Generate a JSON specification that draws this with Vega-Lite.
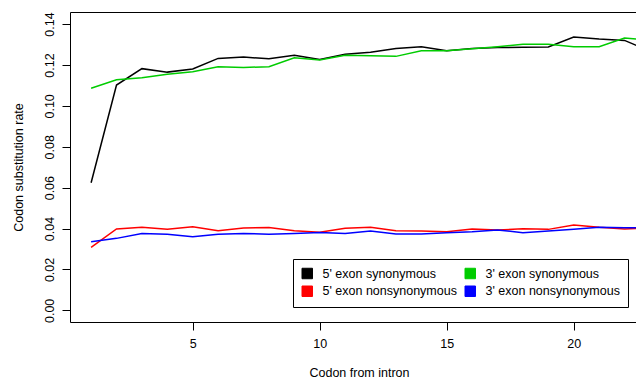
{
  "$schema": "https://vega.github.io/schema/vega-lite/v6.json",
  "autosize": {"type": "none"},
  "padding": {"left": 70, "top": 12, "right": 0, "bottom": 59},
  "width": 568,
  "height": 310,
  "background": "white",
  "config": {
    "font": "Liberation Sans",
    "view": {"stroke": "black", "strokeWidth": 1},
    "axis": {"grid": false, "domain": false, "tickColor": "black", "tickSize": 8, "labelColor": "black", "titleColor": "black", "labelFont": "Liberation Sans", "titleFont": "Liberation Sans", "labelFontSize": 12.5, "titleFontSize": 12.5, "titleFontWeight": "normal"}
  },
  "datasets": {
    "rates": [
      {"codon": 1, "series": "5' exon synonymous", "rate": 0.0624},
      {"codon": 2, "series": "5' exon synonymous", "rate": 0.1102},
      {"codon": 3, "series": "5' exon synonymous", "rate": 0.1182},
      {"codon": 4, "series": "5' exon synonymous", "rate": 0.1165},
      {"codon": 5, "series": "5' exon synonymous", "rate": 0.1180},
      {"codon": 6, "series": "5' exon synonymous", "rate": 0.1232},
      {"codon": 7, "series": "5' exon synonymous", "rate": 0.1239},
      {"codon": 8, "series": "5' exon synonymous", "rate": 0.1230},
      {"codon": 9, "series": "5' exon synonymous", "rate": 0.1248},
      {"codon": 10, "series": "5' exon synonymous", "rate": 0.1227},
      {"codon": 11, "series": "5' exon synonymous", "rate": 0.1252},
      {"codon": 12, "series": "5' exon synonymous", "rate": 0.1262},
      {"codon": 13, "series": "5' exon synonymous", "rate": 0.1281},
      {"codon": 14, "series": "5' exon synonymous", "rate": 0.1289},
      {"codon": 15, "series": "5' exon synonymous", "rate": 0.1270},
      {"codon": 16, "series": "5' exon synonymous", "rate": 0.1280},
      {"codon": 17, "series": "5' exon synonymous", "rate": 0.1285},
      {"codon": 18, "series": "5' exon synonymous", "rate": 0.1287},
      {"codon": 19, "series": "5' exon synonymous", "rate": 0.1288},
      {"codon": 20, "series": "5' exon synonymous", "rate": 0.1337},
      {"codon": 21, "series": "5' exon synonymous", "rate": 0.1327},
      {"codon": 22, "series": "5' exon synonymous", "rate": 0.1320},
      {"codon": 23, "series": "5' exon synonymous", "rate": 0.1268},
      {"codon": 1, "series": "3' exon synonymous", "rate": 0.1086},
      {"codon": 2, "series": "3' exon synonymous", "rate": 0.1128},
      {"codon": 3, "series": "3' exon synonymous", "rate": 0.1138},
      {"codon": 4, "series": "3' exon synonymous", "rate": 0.1154},
      {"codon": 5, "series": "3' exon synonymous", "rate": 0.1167},
      {"codon": 6, "series": "3' exon synonymous", "rate": 0.1191},
      {"codon": 7, "series": "3' exon synonymous", "rate": 0.1188},
      {"codon": 8, "series": "3' exon synonymous", "rate": 0.1191},
      {"codon": 9, "series": "3' exon synonymous", "rate": 0.1235},
      {"codon": 10, "series": "3' exon synonymous", "rate": 0.1224},
      {"codon": 11, "series": "3' exon synonymous", "rate": 0.1248},
      {"codon": 12, "series": "3' exon synonymous", "rate": 0.1245},
      {"codon": 13, "series": "3' exon synonymous", "rate": 0.1242},
      {"codon": 14, "series": "3' exon synonymous", "rate": 0.1269},
      {"codon": 15, "series": "3' exon synonymous", "rate": 0.1270},
      {"codon": 16, "series": "3' exon synonymous", "rate": 0.1279},
      {"codon": 17, "series": "3' exon synonymous", "rate": 0.1289},
      {"codon": 18, "series": "3' exon synonymous", "rate": 0.1301},
      {"codon": 19, "series": "3' exon synonymous", "rate": 0.1301},
      {"codon": 20, "series": "3' exon synonymous", "rate": 0.1289},
      {"codon": 21, "series": "3' exon synonymous", "rate": 0.1289},
      {"codon": 22, "series": "3' exon synonymous", "rate": 0.1332},
      {"codon": 23, "series": "3' exon synonymous", "rate": 0.1320},
      {"codon": 1, "series": "5' exon nonsynonymous", "rate": 0.0308},
      {"codon": 2, "series": "5' exon nonsynonymous", "rate": 0.0398},
      {"codon": 3, "series": "5' exon nonsynonymous", "rate": 0.0406},
      {"codon": 4, "series": "5' exon nonsynonymous", "rate": 0.0396},
      {"codon": 5, "series": "5' exon nonsynonymous", "rate": 0.0409},
      {"codon": 6, "series": "5' exon nonsynonymous", "rate": 0.0389},
      {"codon": 7, "series": "5' exon nonsynonymous", "rate": 0.0403},
      {"codon": 8, "series": "5' exon nonsynonymous", "rate": 0.0405},
      {"codon": 9, "series": "5' exon nonsynonymous", "rate": 0.0389},
      {"codon": 10, "series": "5' exon nonsynonymous", "rate": 0.0382},
      {"codon": 11, "series": "5' exon nonsynonymous", "rate": 0.0401},
      {"codon": 12, "series": "5' exon nonsynonymous", "rate": 0.0406},
      {"codon": 13, "series": "5' exon nonsynonymous", "rate": 0.0389},
      {"codon": 14, "series": "5' exon nonsynonymous", "rate": 0.0388},
      {"codon": 15, "series": "5' exon nonsynonymous", "rate": 0.0384},
      {"codon": 16, "series": "5' exon nonsynonymous", "rate": 0.0398},
      {"codon": 17, "series": "5' exon nonsynonymous", "rate": 0.0393},
      {"codon": 18, "series": "5' exon nonsynonymous", "rate": 0.0399},
      {"codon": 19, "series": "5' exon nonsynonymous", "rate": 0.0396},
      {"codon": 20, "series": "5' exon nonsynonymous", "rate": 0.0417},
      {"codon": 21, "series": "5' exon nonsynonymous", "rate": 0.0406},
      {"codon": 22, "series": "5' exon nonsynonymous", "rate": 0.0398},
      {"codon": 23, "series": "5' exon nonsynonymous", "rate": 0.0402},
      {"codon": 1, "series": "3' exon nonsynonymous", "rate": 0.0336},
      {"codon": 2, "series": "3' exon nonsynonymous", "rate": 0.0352},
      {"codon": 3, "series": "3' exon nonsynonymous", "rate": 0.0376},
      {"codon": 4, "series": "3' exon nonsynonymous", "rate": 0.0372},
      {"codon": 5, "series": "3' exon nonsynonymous", "rate": 0.0360},
      {"codon": 6, "series": "3' exon nonsynonymous", "rate": 0.0372},
      {"codon": 7, "series": "3' exon nonsynonymous", "rate": 0.0376},
      {"codon": 8, "series": "3' exon nonsynonymous", "rate": 0.0372},
      {"codon": 9, "series": "3' exon nonsynonymous", "rate": 0.0376},
      {"codon": 10, "series": "3' exon nonsynonymous", "rate": 0.0381},
      {"codon": 11, "series": "3' exon nonsynonymous", "rate": 0.0376},
      {"codon": 12, "series": "3' exon nonsynonymous", "rate": 0.0388},
      {"codon": 13, "series": "3' exon nonsynonymous", "rate": 0.0373},
      {"codon": 14, "series": "3' exon nonsynonymous", "rate": 0.0373},
      {"codon": 15, "series": "3' exon nonsynonymous", "rate": 0.0380},
      {"codon": 16, "series": "3' exon nonsynonymous", "rate": 0.0384},
      {"codon": 17, "series": "3' exon nonsynonymous", "rate": 0.0393},
      {"codon": 18, "series": "3' exon nonsynonymous", "rate": 0.0380},
      {"codon": 19, "series": "3' exon nonsynonymous", "rate": 0.0388},
      {"codon": 20, "series": "3' exon nonsynonymous", "rate": 0.0396},
      {"codon": 21, "series": "3' exon nonsynonymous", "rate": 0.0406},
      {"codon": 22, "series": "3' exon nonsynonymous", "rate": 0.0404},
      {"codon": 23, "series": "3' exon nonsynonymous", "rate": 0.0403}
    ]
  },
  "data": {"name": "rates"},
  "mark": {"type": "line", "clip": true, "strokeWidth": 1.5},
  "encoding": {
    "x": {
      "field": "codon", "type": "quantitative",
      "scale": {"domain": [0.169, 22.53], "nice": false, "zero": false},
      "axis": {"values": [5, 10, 15, 20], "title": "Codon from intron", "labelPadding": 7, "titleX": 289, "titleY": 50, "titleBaseline": "middle", "titleAlign": "center"}
    },
    "y": {
      "field": "rate", "type": "quantitative",
      "scale": {"domain": [-0.0057, 0.1459], "nice": false, "zero": false},
      "axis": {"values": [0, 0.02, 0.04, 0.06, 0.08, 0.1, 0.12, 0.14], "format": ".2f", "title": "Codon substitution rate", "labelAngle": 270, "labelAlign": "center", "labelBaseline": "alphabetic", "labelPadding": 9, "titleAngle": 270, "titleX": -52, "titleY": 155, "titleAlign": "center", "titleBaseline": "middle"}
    },
    "color": {
      "field": "series", "type": "nominal",
      "scale": {"domain": ["5' exon synonymous", "3' exon synonymous", "5' exon nonsynonymous", "3' exon nonsynonymous"], "range": ["#000000", "#00CC00", "#FF0000", "#0000FF"]},
      "legend": {
        "title": null, "orient": "none", "legendX": 223, "legendY": 247, "direction": "horizontal", "columns": 2,
        "padding": 8, "strokeColor": "black", "fillColor": "white",
        "labelFontSize": 12.5, "labelFont": "Liberation Sans", "labelColor": "black", "labelOffset": 9,
        "columnPadding": 6, "rowPadding": 3, "symbolType": "square", "symbolSize": 110,
        "encode": {"symbols": {"update": {"fill": {"scale": "color", "field": "value"}, "stroke": {"value": "black"}, "strokeWidth": {"value": 1}, "opacity": {"value": 1}, "shape": {"value": "square"}, "size": {"value": 110}}}}
      }
    }
  }
}
